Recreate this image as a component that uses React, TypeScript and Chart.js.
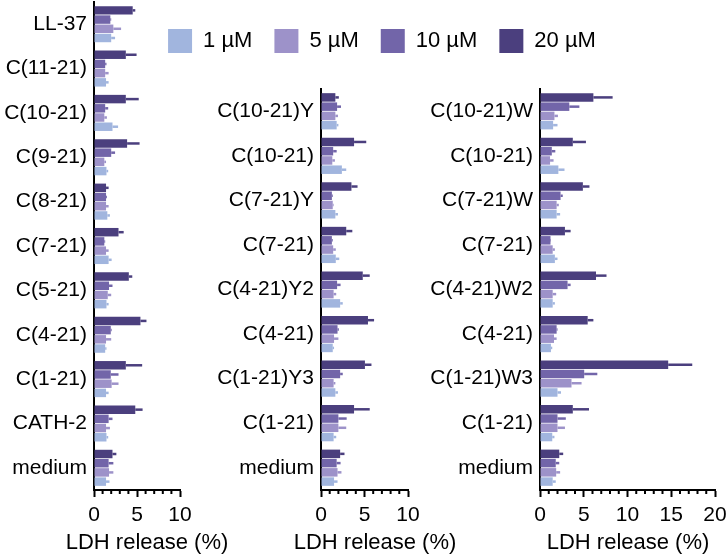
import React, { useEffect, useRef } from "react";
import { Chart, registerables } from "chart.js";
Chart.register(...registerables);

const FONT = "'Liberation Sans', Arial, Helvetica, sans-serif";
Chart.defaults.font.family = FONT;

// ---------- DATA ----------
const concLabels = ["1 µM", "5 µM", "10 µM", "20 µM"];
const concColors = ["#a1b5de", "#9d92c9", "#7265a9", "#4b3f7e"];
const axisTitle = "LDH release (%)";

// Panel 1
const p1Categories = ["LL-37", "C(11-21)", "C(10-21)", "C(9-21)", "C(8-21)", "C(7-21)", "C(5-21)", "C(4-21)", "C(1-21)", "CATH-2", "medium"];
const p1Val1 = [2.0, 1.4, 2.15, 1.45, 1.55, 1.7, 1.45, 1.3, 1.4, 1.45, 1.4];
const p1Err1 = [0.45, 0.3, 0.65, 0.2, 0.3, 0.35, 0.25, 0.15, 0.3, 0.2, 0.4];
const p1Val5 = [2.25, 1.3, 1.2, 1.2, 1.4, 1.4, 1.6, 1.4, 2.05, 1.4, 1.75];
const p1Err5 = [0.9, 0.4, 0.3, 0.2, 0.3, 0.3, 0.4, 0.6, 0.8, 0.45, 0.5];
const p1Val10 = [1.9, 1.3, 1.3, 2.0, 1.4, 1.2, 1.75, 1.95, 1.95, 1.7, 1.7];
const p1Err10 = [0.1, 0.15, 0.35, 0.45, 0.1, 0.1, 0.4, 0.1, 0.9, 0.45, 0.55];
const p1Val20 = [4.5, 3.7, 3.7, 3.85, 1.4, 2.85, 4.05, 5.4, 3.7, 4.8, 2.15];
const p1Err20 = [0.3, 1.25, 1.5, 1.45, 0.3, 0.6, 0.4, 0.7, 1.9, 0.85, 0.45];
const p1Max = 10;

// Panel 2
const p2Categories = ["C(10-21)Y", "C(10-21)", "C(7-21)Y", "C(7-21)", "C(4-21)Y2", "C(4-21)", "C(1-21)Y3", "C(1-21)", "medium"];
const p2Val1 = [1.8, 2.4, 1.65, 1.7, 2.2, 1.35, 1.65, 1.45, 1.5];
const p2Err1 = [0.2, 0.5, 0.3, 0.4, 0.3, 0.15, 0.3, 0.3, 0.4];
const p2Val5 = [1.65, 1.3, 1.35, 1.4, 1.45, 1.5, 1.45, 2.0, 1.9];
const p2Err5 = [0.3, 0.3, 0.1, 0.3, 0.3, 0.5, 0.2, 0.9, 0.45];
const p2Val10 = [1.85, 1.4, 1.25, 1.25, 1.85, 1.9, 2.2, 2.0, 1.8];
const p2Err10 = [0.45, 0.4, 0.1, 0.1, 0.4, 0.15, 0.3, 0.95, 0.45];
const p2Val20 = [1.65, 3.8, 3.5, 2.9, 4.8, 5.4, 5.05, 3.8, 2.2];
const p2Err20 = [0.4, 1.4, 0.7, 0.7, 0.8, 0.7, 0.75, 1.8, 0.5];
const p2Max = 10;

// Panel 3
const p3Categories = ["C(10-21)W", "C(10-21)", "C(7-21)W", "C(7-21)", "C(4-21)W2", "C(4-21)", "C(1-21)W3", "C(1-21)", "medium"];
const p3Val1 = [1.5, 2.1, 1.9, 1.7, 1.45, 1.25, 2.0, 1.4, 1.45];
const p3Err1 = [0.5, 0.7, 0.4, 0.3, 0.25, 0.15, 0.4, 0.25, 0.35];
const p3Val5 = [1.65, 1.15, 1.9, 1.45, 1.45, 1.6, 3.6, 2.0, 1.85];
const p3Err5 = [0.4, 0.4, 0.25, 0.25, 0.4, 0.3, 1.15, 0.85, 0.45];
const p3Val10 = [3.35, 1.35, 2.35, 1.2, 3.15, 1.9, 5.05, 2.0, 1.8];
const p3Err10 = [1.15, 0.4, 0.25, 0.05, 0.35, 0.1, 1.5, 0.95, 0.4];
const p3Val20 = [6.1, 3.75, 4.9, 2.85, 6.4, 5.45, 14.65, 3.75, 2.2];
const p3Err20 = [2.2, 1.5, 0.75, 0.65, 1.2, 0.65, 2.75, 1.85, 0.45];
const p3Max = 20;

// ---------- PLUGINS ----------
const errorBarPlugin = {
  id: "errorBars",
  afterDatasetsDraw(chart: any) {
    const ctx = chart.ctx;
    const xs = chart.scales.x;
    chart.data.datasets.forEach((ds: any, di: number) => {
      const meta = chart.getDatasetMeta(di);
      if (!meta || meta.hidden || !ds.errors) return;
      meta.data.forEach((bar: any, j: number) => {
        const v = ds.data[j];
        const e = ds.errors[j];
        if (v == null || e == null) return;
        const x1 = xs.getPixelForValue(v);
        const x2 = xs.getPixelForValue(v + e);
        const y = bar.y;
        ctx.save();
        ctx.strokeStyle = ds.backgroundColor;
        ctx.lineWidth = 2.5;
        ctx.beginPath();
        ctx.moveTo(x1, y);
        ctx.lineTo(x2, y);
        ctx.stroke();
        ctx.restore();
      });
    });
  },
};

const minorTickPlugin = {
  id: "minorTicks",
  afterDraw(chart: any) {
    const xs = chart.scales.x;
    if (!xs) return;
    const ctx = chart.ctx;
    ctx.save();
    ctx.strokeStyle = "#000";
    ctx.lineWidth = 2;
    for (let v = xs.min; v <= xs.max; v += 1) {
      if (v % 5 === 0) continue;
      const x = xs.getPixelForValue(v);
      ctx.beginPath();
      ctx.moveTo(x, xs.top);
      ctx.lineTo(x, xs.top + 4);
      ctx.stroke();
    }
    ctx.restore();
  },
};

function buildDatasets(vals: number[][], errs: number[][]) {
  // top-to-bottom within each group: 20, 10, 5, 1 µM
  return [3, 2, 1, 0].map((i) => ({
    label: concLabels[i],
    data: vals[i],
    errors: errs[i],
    backgroundColor: concColors[i],
    borderWidth: 0,
    categoryPercentage: 0.83,
    barPercentage: 0.92,
  }));
}

type PanelProps = {
  left: number;
  width: number;
  height: number;
  categories: string[];
  vals: number[][];
  errs: number[][];
  max: number;
  yWidth: number;
  rightWidth: number;
  padTop: number;
  xHeight: number;
};

function Panel(p: PanelProps) {
  const ref = useRef<HTMLCanvasElement | null>(null);
  useEffect(() => {
    if (!ref.current) return;
    const chart = new Chart(ref.current, {
      type: "bar",
      data: { labels: p.categories, datasets: buildDatasets(p.vals, p.errs) as any },
      options: {
        indexAxis: "y",
        animation: false,
        responsive: false,
        maintainAspectRatio: false,
        layout: { padding: { top: p.padTop, right: 0, left: 0, bottom: 0 } },
        plugins: {
          legend: { display: false },
          tooltip: { enabled: false },
          title: {
            display: true,
            position: "bottom",
            text: axisTitle,
            color: "#000",
            font: { size: 22, family: FONT, weight: "normal" },
            padding: { top: 0, bottom: 1 },
          },
        },
        scales: {
          y: {
            type: "category",
            position: "left",
            grid: { drawOnChartArea: false, drawTicks: false },
            border: { color: "#000", width: 2 },
            ticks: { color: "#000", font: { size: 21, family: FONT }, padding: 7, autoSkip: false },
            afterFit: (s: any) => {
              s.width = p.yWidth;
              s.paddingTop = 0;
              s.paddingBottom = 0;
            },
          },
          yRight: {
            type: "category",
            axis: "y",
            position: "right",
            grid: { display: false, drawTicks: false },
            border: { display: false },
            ticks: { display: false },
            afterFit: (s: any) => {
              s.width = p.rightWidth;
              s.paddingTop = 0;
              s.paddingBottom = 0;
            },
          },
          x: {
            type: "linear",
            min: 0,
            max: p.max,
            grid: {
              drawOnChartArea: false,
              drawTicks: true,
              tickLength: 7,
              tickWidth: 2,
              tickColor: (c: any) => (c.tick && c.tick.value % 5 === 0 ? "#000" : "rgba(0,0,0,0)"),
            },
            border: { color: "#000", width: 2 },
            ticks: {
              stepSize: 1,
              autoSkip: false,
              maxRotation: 0,
              color: "#000",
              font: { size: 21, family: FONT },
              padding: 6,
              callback: (v: any) => (Number(v) % 5 === 0 ? String(v) : ""),
            },
            afterFit: (s: any) => {
              s.height = p.xHeight;
              s.paddingLeft = 0;
              s.paddingRight = 0;
            },
          },
        },
      } as any,
      plugins: [errorBarPlugin, minorTickPlugin],
    });
    return () => chart.destroy();
  }, []);
  return (
    <canvas
      ref={ref}
      width={p.width}
      height={p.height}
      style={{ position: "absolute", left: p.left, top: 0, width: p.width, height: p.height }}
    />
  );
}

function LegendChart() {
  const ref = useRef<HTMLCanvasElement | null>(null);
  useEffect(() => {
    if (!ref.current) return;
    const chart = new Chart(ref.current, {
      type: "bar",
      data: {
        labels: [],
        datasets: concLabels.map((l, i) => ({ label: l, data: [], backgroundColor: concColors[i], borderWidth: 0 })),
      },
      options: {
        animation: false,
        responsive: false,
        layout: { padding: 0 },
        scales: { x: { display: false }, y: { display: false } },
        plugins: {
          tooltip: { enabled: false },
          legend: {
            display: true,
            position: "top",
            labels: {
              boxWidth: 24,
              boxHeight: 24,
              padding: 22,
              color: "#000",
              font: { size: 22, family: FONT },
            },
          },
        },
      } as any,
    });
    return () => chart.destroy();
  }, []);
  return (
    <canvas
      ref={ref}
      width={600}
      height={160}
      style={{ position: "absolute", left: 82, top: 7, width: 600, height: 160, pointerEvents: "none" }}
    />
  );
}

export default function App() {
  return (
    <div style={{ position: "absolute", left: 0, top: 0, width: 727, height: 557, background: "#fff", overflow: "hidden" }}>
      <Panel
        left={0}
        width={294}
        height={557}
        categories={p1Categories}
        vals={[p1Val1, p1Val5, p1Val10, p1Val20]}
        errs={[p1Err1, p1Err5, p1Err10, p1Err20]}
        max={p1Max}
        yWidth={94}
        rightWidth={114}
        padTop={2}
        xHeight={39.6}
      />
      <Panel
        left={200}
        width={350}
        height={557}
        categories={p2Categories}
        vals={[p2Val1, p2Val5, p2Val10, p2Val20]}
        errs={[p2Err1, p2Err5, p2Err10, p2Err20]}
        max={p2Max}
        yWidth={121}
        rightWidth={142}
        padTop={89}
        xHeight={39.6}
      />
      <Panel
        left={420}
        width={416}
        height={557}
        categories={p3Categories}
        vals={[p3Val1, p3Val5, p3Val10, p3Val20]}
        errs={[p3Err1, p3Err5, p3Err10, p3Err20]}
        max={p3Max}
        yWidth={120}
        rightWidth={121}
        padTop={89}
        xHeight={39.6}
      />
      <LegendChart />
    </div>
  );
}
